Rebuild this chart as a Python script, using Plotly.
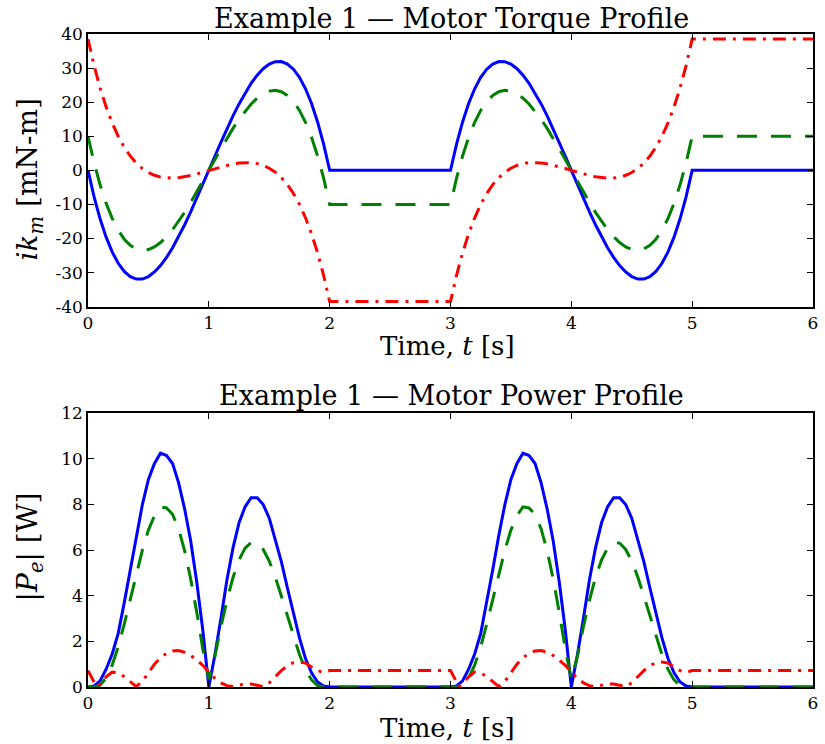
import plotly.graph_objects as go

# ---------------- data ----------------
t = [0.00, 0.05, 0.10, 0.15, 0.20, 0.25, 0.30, 0.35, 0.40, 0.45, 0.50, 0.55, 0.60, 0.65, 0.70,
     0.75, 0.80, 0.85, 0.90, 0.95, 1.00, 1.05, 1.10, 1.15, 1.20, 1.25, 1.30, 1.35, 1.40, 1.45,
     1.50, 1.55, 1.60, 1.65, 1.70, 1.75, 1.80, 1.85, 1.90, 1.95, 2.00,
     3.00, 3.05, 3.10, 3.15, 3.20, 3.25, 3.30, 3.35, 3.40, 3.45, 3.50, 3.55, 3.60, 3.65, 3.70,
     3.75, 3.80, 3.85, 3.90, 3.95, 4.00, 4.05, 4.10, 4.15, 4.20, 4.25, 4.30, 4.35, 4.40, 4.45,
     4.50, 4.55, 4.60, 4.65, 4.70, 4.75, 4.80, 4.85, 4.90, 4.95, 5.00,
     6.00]

torque_blue = [0, -7.70, -14.21, -19.60, -23.93, -27.27, -29.67, -31.19, -31.91, -31.88, -31.16,
               -29.82, -27.92, -25.52, -22.69, -19.48, -15.96, -12.18, -8.23, -4.14, 0,
               4.14, 8.23, 12.18, 15.96, 19.48, 22.69, 25.52, 27.92, 29.82, 31.16,
               31.88, 31.91, 31.19, 29.67, 27.27, 23.93, 19.60, 14.21, 7.70, 0,
               0, 7.70, 14.21, 19.60, 23.93, 27.27, 29.67, 31.19, 31.91, 31.88, 31.16,
               29.82, 27.92, 25.52, 22.69, 19.48, 15.96, 12.18, 8.23, 4.14, 0,
               -4.14, -8.23, -12.18, -15.96, -19.48, -22.69, -25.52, -27.92, -29.82, -31.16,
               -31.88, -31.91, -31.19, -29.67, -27.27, -23.93, -19.60, -14.21, -7.70, 0,
               0]

torque_green = [10, 2.30, -4.23, -9.68, -14.10, -17.59, -20.20, -22.00, -23.07, -23.46, -23.23,
                -22.45, -21.18, -19.47, -17.39, -14.98, -12.31, -9.41, -6.37, -3.20, 0,
                3.20, 6.37, 9.41, 12.31, 14.98, 17.39, 19.47, 21.18, 22.45, 23.23,
                23.46, 23.07, 22.00, 20.20, 17.59, 14.10, 9.68, 4.23, -2.30, -10,
                -10, -2.30, 4.23, 9.68, 14.10, 17.59, 20.20, 22.00, 23.07, 23.46, 23.23,
                22.45, 21.18, 19.47, 17.39, 14.98, 12.31, 9.41, 6.37, 3.20, 0,
                -3.20, -6.37, -9.41, -12.31, -14.98, -17.39, -19.47, -21.18, -22.45, -23.23,
                -23.46, -23.07, -22.00, -20.20, -17.59, -14.10, -9.68, -4.23, 2.30, 10,
                10]

torque_red = [38.5, 30.79, 24.20, 18.61, 13.91, 9.99, 6.78, 4.19, 2.13, 0.54, -0.63,
              -1.45, -1.98, -2.24, -2.30, -2.17, -1.90, -1.51, -1.06, -0.54, 0,
              0.54, 1.06, 1.51, 1.90, 2.17, 2.30, 2.24, 1.98, 1.45, 0.63,
              -0.54, -2.13, -4.19, -6.78, -9.99, -13.91, -18.61, -24.20, -30.79, -38.5,
              -38.5, -30.79, -24.20, -18.61, -13.91, -9.99, -6.78, -4.19, -2.13, -0.54, 0.63,
              1.45, 1.98, 2.24, 2.30, 2.17, 1.90, 1.51, 1.06, 0.54, 0,
              -0.54, -1.06, -1.51, -1.90, -2.17, -2.30, -2.24, -1.98, -1.45, -0.63,
              0.54, 2.13, 4.19, 6.78, 9.99, 13.91, 18.61, 24.20, 30.79, 38.5,
              38.5]

power_blue = [0, 0.05, 0.27, 0.78, 1.45, 2.35, 3.70, 5.15, 6.65, 8.00, 9.10,
              9.80, 10.25, 10.15, 9.80, 8.95, 7.80, 6.40, 4.60, 2.50, 0,
              1.40, 3.00, 4.70, 6.10, 7.20, 7.90, 8.30, 8.30, 8.00, 7.40,
              6.50, 5.50, 4.35, 3.20, 2.15, 1.25, 0.62, 0.22, 0.04, 0,
              0, 0.05, 0.27, 0.78, 1.45, 2.35, 3.70, 5.15, 6.65, 8.00, 9.10,
              9.80, 10.25, 10.15, 9.80, 8.95, 7.80, 6.40, 4.60, 2.50, 0,
              1.40, 3.00, 4.70, 6.10, 7.20, 7.90, 8.30, 8.30, 8.00, 7.40,
              6.50, 5.50, 4.35, 3.20, 2.15, 1.25, 0.62, 0.22, 0.04, 0,
              0]

power_green = [0, 0.01, 0.08, 0.39, 0.96, 1.77, 2.76, 3.86, 4.97, 6.00, 6.88,
               7.51, 7.90, 7.85, 7.57, 6.93, 5.97, 4.73, 3.28, 1.67, 0.35,
               1.34, 2.64, 3.80, 4.80, 5.57, 6.09, 6.33, 6.31, 6.03, 5.52,
               4.82, 3.99, 3.10, 2.22, 1.42, 0.77, 0.31, 0.06, 0.01, 0,
               0, 0.01, 0.08, 0.39, 0.96, 1.77, 2.76, 3.86, 4.97, 6.00, 6.88,
               7.51, 7.90, 7.85, 7.57, 6.93, 5.97, 4.73, 3.28, 1.67, 0.35,
               1.34, 2.64, 3.80, 4.80, 5.57, 6.09, 6.33, 6.31, 6.03, 5.52,
               4.82, 3.99, 3.10, 2.22, 1.42, 0.77, 0.31, 0.06, 0.01, 0,
               0]

t_red_power = [0.00, 0.03, 0.07, 0.10, 0.15, 0.20, 0.25, 0.30, 0.35, 0.40, 0.45, 0.50, 0.55,
               0.60, 0.65, 0.70, 0.75, 0.80, 0.85, 0.90, 0.95, 1.00, 1.05, 1.10, 1.15, 1.20,
               1.25, 1.30, 1.35, 1.40, 1.45, 1.50, 1.55, 1.60, 1.65, 1.70, 1.75, 1.80, 1.85,
               1.90, 1.95, 2.00,
               3.00, 3.03, 3.07, 3.10, 3.15, 3.20, 3.25, 3.30, 3.35, 3.40, 3.45, 3.50, 3.55,
               3.60, 3.65, 3.70, 3.75, 3.80, 3.85, 3.90, 3.95, 4.00, 4.05, 4.10, 4.15, 4.20,
               4.25, 4.30, 4.35, 4.40, 4.45, 4.50, 4.55, 4.60, 4.65, 4.70, 4.75, 4.80, 4.85,
               4.90, 4.95, 5.00,
               6.00]

power_red = [0.72, 0.40, 0.02, 0.14, 0.45, 0.65, 0.62, 0.45, 0.22, 0.02, 0.25, 0.62, 1.00,
             1.28, 1.48, 1.58, 1.60, 1.52, 1.38, 1.18, 0.95, 0.65, 0.38, 0.18, 0.06, 0.02,
             0.08, 0.14, 0.13, 0.07, 0.02, 0.18, 0.45, 0.72, 0.93, 1.07, 1.10, 1.05, 0.88,
             0.72, 0.64, 0.72,
             0.72, 0.40, 0.02, 0.14, 0.45, 0.65, 0.62, 0.45, 0.22, 0.02, 0.25, 0.62, 1.00,
             1.28, 1.48, 1.58, 1.60, 1.52, 1.38, 1.18, 0.95, 0.65, 0.38, 0.18, 0.06, 0.02,
             0.08, 0.14, 0.13, 0.07, 0.02, 0.18, 0.45, 0.72, 0.93, 1.07, 1.10, 1.05, 0.88,
             0.72, 0.64, 0.72,
             0.72]

x_ticks = [0, 1, 2, 3, 4, 5, 6]
x_tick_labels = ["0", "1", "2", "3", "4", "5", "6"]
torque_ticks = [-40, -30, -20, -10, 0, 10, 20, 30, 40]
torque_tick_labels = ["-40", "-30", "-20", "-10", "0", "10", "20", "30", "40"]
power_ticks = [0, 2, 4, 6, 8, 10, 12]
power_tick_labels = ["0", "2", "4", "6", "8", "10", "12"]

title_torque = "Example 1 \u2014 Motor Torque Profile"
title_power = "Example 1 \u2014 Motor Power Profile"
xlabel = "Time, <i>t</i> [s]"
ylabel_torque = "<i>ik</i><sub><i>m</i></sub> [mN-m]"
ylabel_power = "|<i>P</i><sub><i>e</i></sub>| [W]"

# ---------------- styling ----------------
FONT = "DejaVu Serif"
BLUE, GREEN, RED = "#0000ff", "#008000", "#ff0000"
LW = 3
DASH = "20px,14px"
DASHDOT = "13px,7px,3px,7px"

fig = go.Figure()

def add(x, y, color, dash, xa, ya):
    fig.add_trace(go.Scatter(x=x, y=y, mode="lines",
                             line=dict(color=color, width=LW, dash=dash),
                             xaxis=xa, yaxis=ya, showlegend=False, hoverinfo="skip"))

add(t, torque_blue, BLUE, "solid", "x", "y")
add(t, torque_green, GREEN, DASH, "x", "y")
add(t, torque_red, RED, DASHDOT, "x", "y")
add(t, power_blue, BLUE, "solid", "x2", "y2")
add(t, power_green, GREEN, DASH, "x2", "y2")
add(t_red_power, power_red, RED, DASHDOT, "x2", "y2")

W, H = 825, 744
ML, MR, MT, MB = 88, 7, 34, 57
plot_h = H - MT - MB  # 653
def py(ypx):
    return (H - MB - ypx) / plot_h
def px(xpx):
    return (xpx - ML) / (W - ML - MR)

axis_common = dict(
    ticks="inside", ticklen=6, tickwidth=1, tickcolor="black",
    mirror="ticks", showline=True, linecolor="black", linewidth=1.5,
    showgrid=False, zeroline=False,
    tickfont=dict(family=FONT, size=17, color="black"),
    tickmode="array",
)

fig.update_layout(
    width=W, height=H,
    margin=dict(l=ML, r=MR, t=MT, b=MB, pad=0),
    paper_bgcolor="white", plot_bgcolor="white",
    xaxis=dict(domain=[0, 1], anchor="y", range=[0, 6],
               tickvals=x_ticks, ticktext=x_tick_labels, **axis_common),
    yaxis=dict(domain=[py(306.7), 1], anchor="x", range=[-40, 40],
               tickvals=torque_ticks, ticktext=torque_tick_labels, **axis_common),
    xaxis2=dict(domain=[0, 1], anchor="y2", range=[0, 6],
                tickvals=x_ticks, ticktext=x_tick_labels, **axis_common),
    yaxis2=dict(domain=[0, py(413.3)], anchor="x2", range=[0, 12],
                tickvals=power_ticks, ticktext=power_tick_labels, **axis_common),
)

def ann(text, x, y, angle=0, size=26):
    fig.add_annotation(text=text, x=x, y=y, xref="paper", yref="paper",
                       xanchor="center", yanchor="middle", showarrow=False,
                       textangle=angle, borderpad=0,
                       font=dict(family=FONT, size=size, color="black"))

ann(title_torque, px(454), py(18), size=27)
ann(title_power, px(454), py(395), size=27)
ann(xlabel, px(450), py(346))
ann(xlabel, px(450), py(728))
ann(ylabel_torque, px(29), py(179), angle=-90, size=28)
ann(ylabel_power, px(29), py(547), angle=-90, size=28)

fig.write_html("out.html")
